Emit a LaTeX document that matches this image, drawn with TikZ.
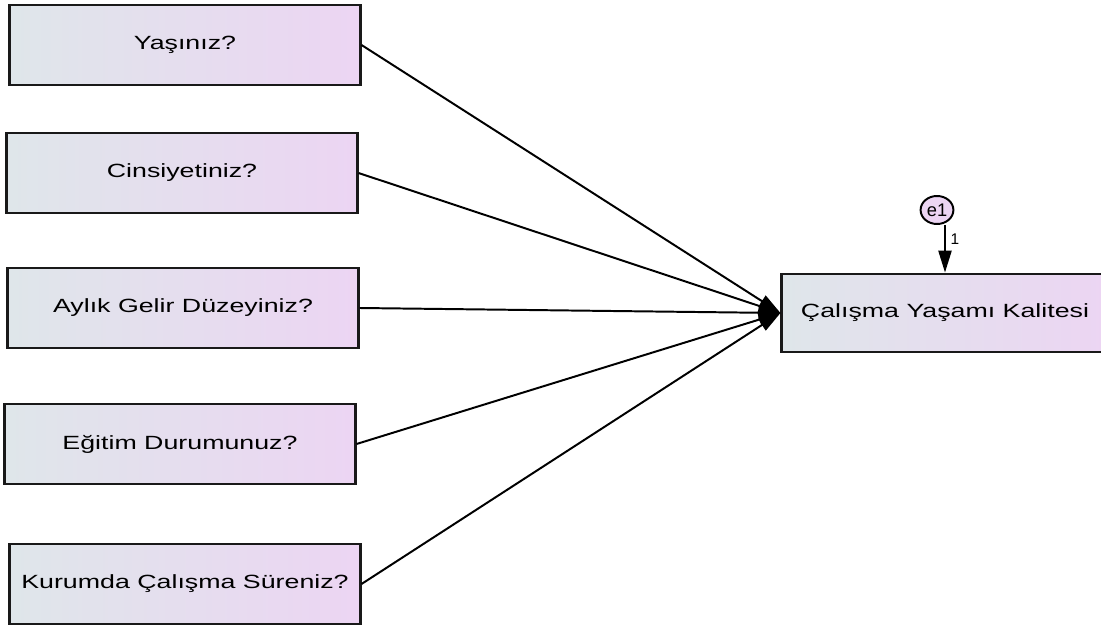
\documentclass[tikz,border=0pt]{standalone}
\usepackage{fontspec}
\setmainfont[FakeStretch=1.4]{Liberation Sans}
\newfontfamily\plainsans{Liberation Sans}
\usepackage{tikz}
\usetikzlibrary{positioning}
\usetikzlibrary{arrows.meta}
\usetikzlibrary{shapes.geometric}
\usetikzlibrary{calc}

\definecolor{boxleft}{RGB}{223,230,234}
\definecolor{boxright}{RGB}{236,213,243}

\begin{document}
\begin{tikzpicture}[x=0.025cm, y=-0.025cm,
			itemnode/.style={rectangle, draw=black!90, line width=2.1pt, left color=boxleft, right color=boxright, minimum width=8.75cm, minimum height=2cm, font=\fontsize{13.6}{16}\selectfont},
			outcomenode/.style={rectangle, draw=black!90, line width=2.1pt, left color=boxleft, right color=boxright, minimum width=8.15cm, minimum height=1.95cm, font=\fontsize{13.6}{16}\selectfont},
			errornode/.style={ellipse, draw=black, line width=1.4pt, fill=boxright, minimum width=0.82cm, minimum height=0.7cm, inner sep=0pt, font=\plainsans\fontsize{13}{15}\selectfont},
			pathline/.style={-{Triangle[length=0.55cm, width=0.33cm]}, line width=1.4pt},
			]
			\useasboundingbox (0,0) rectangle (1101,630);
			%Nodes
			\node[itemnode] (Age) at (185,45) {Yaşınız?};
			\node[itemnode] (Gender) at (182,173) {Cinsiyetiniz?};
			\node[itemnode] (Income) at (183,308) {Aylık Gelir Düzeyiniz?};
			\node[itemnode] (Education) at (180,444) {Eğitim Durumunuz?};
			\node[itemnode] (Tenure) at (185,584) {Kurumda Çalışma Süreniz?};
			
			\node[outcomenode] (Quality) at (945,313) {Çalışma Yaşamı Kalitesi};
			\node[errornode] (e1) at (937,210) {e1};
			
			%Lines
			\draw[pathline] (Age.east) -- (Quality.west);
			\draw[pathline] (Gender.east) -- (Quality.west);
			\draw[pathline] (Income.east) -- (Quality.west);
			\draw[pathline] (Education.east) -- (Quality.west);
			\draw[pathline] (Tenure.east) -- (Quality.west);
			
			\draw[pathline] (e1.south -| Quality.north) -- node[right, pos=0.3, font=\plainsans\fontsize{11}{13}\selectfont] {1} (Quality.north);
		\end{tikzpicture}
\end{document}
